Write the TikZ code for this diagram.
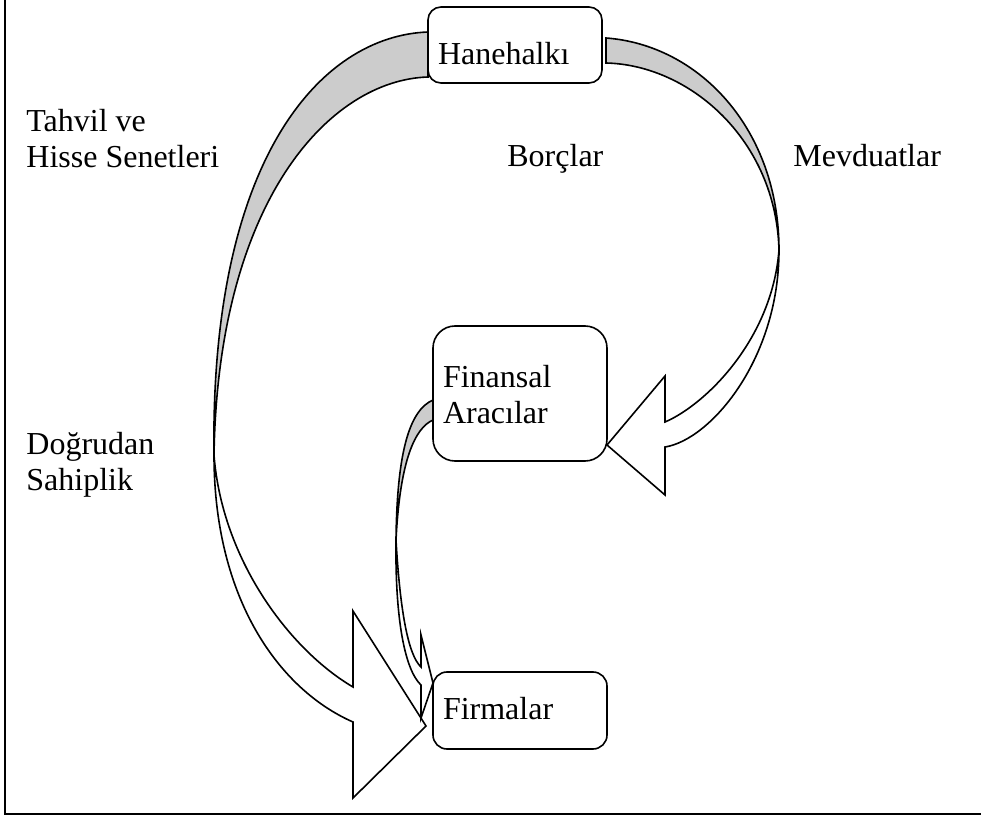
\documentclass[tikz,border=0pt]{standalone}
\usepackage{fontspec}
\setmainfont{Liberation Serif}
\begin{document}
\begin{tikzpicture}[x=0.5pt,y=-0.5pt,
    every node/.style={font=\fontsize{16}{18}\selectfont},
    box/.style={draw,line width=0.8pt,fill=white,inner xsep=5pt,inner ysep=0pt,text width=77pt,align=left},
    lbl/.style={inner sep=0pt,align=left},
    back/.style={draw,line width=0.8pt,fill=gray!40},
    front/.style={draw,line width=0.8pt,fill=white}]
  \useasboundingbox (0,0) rectangle (981,818);
  % frame
  \draw[line width=1.2pt] (5,0) -- (5,814) -- (981,814);

  % Hanehalki -> Firmalar (direct)
  \draw[back] (428,32) .. controls (320,36) and (210,160) .. (214,455)
    .. controls (218,200) and (330,80) .. (428,77) -- cycle;
  \draw[front] (214,455) .. controls (222,560) and (290,650) .. (353,687)
    -- (353,611) -- (426,726) -- (353,798) -- (353,722)
    .. controls (280,690) and (214,600) .. (214,455) -- cycle;

  % Finansal Aracilar -> Firmalar
  \draw[back] (433,400) .. controls (410,410) and (397,450) .. (396,540)
    .. controls (400,460) and (415,428) .. (433,420) -- cycle;
  \draw[front] (396,540) .. controls (400,610) and (408,655) .. (421,667)
    -- (421,635) -- (433,683) -- (421,718) -- (421,685)
    .. controls (405,670) and (395,620) .. (396,540) -- cycle;

  % Hanehalki -> Finansal Aracilar
  \draw[back] (606,38) .. controls (700,45) and (779,130) .. (779,250)
    .. controls (776,140) and (690,65) .. (606,63) -- cycle;
  \draw[front] (779,250) .. controls (772,340) and (705,405) .. (665,422)
    -- (665,376) -- (607,445) -- (665,495) -- (665,447)
    .. controls (710,440) and (779,360) .. (779,250) -- cycle;

  % boxes
  \node[box,rounded corners=6.5pt,text height=29pt,text depth=9pt] (hane) at (515,45) {Hanehalkı};
  \node[box,rounded corners=11pt,text height=31pt,text depth=36.5pt] (fin) at (520,393.5) {Finansal\\Aracılar};
  \node[box,rounded corners=7pt,text height=23.5pt,text depth=15pt] (firm) at (520,710.5) {Firmalar};

  % labels
  \node[lbl,anchor=north west] (tahvil) at (26,109) {Tahvil ve\\Hisse Senetleri};
  \node[lbl,anchor=base west] (borc) at (507,167) {Borçlar};
  \node[lbl,anchor=base west] (mevd) at (793,167) {Mevduatlar};
  \node[lbl,anchor=north west] (dogru) at (26,432) {Doğrudan\\Sahiplik};
\end{tikzpicture}
\end{document}
